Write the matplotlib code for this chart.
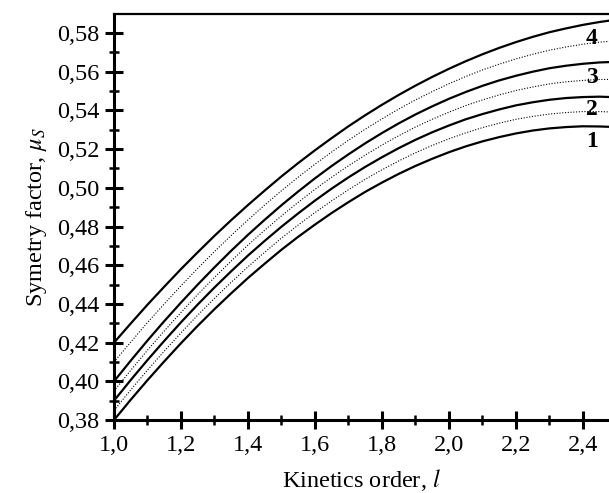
import matplotlib
matplotlib.use('Agg')
import matplotlib.pyplot as plt
from matplotlib.ticker import MultipleLocator, FuncFormatter

plt.rcParams['font.family'] = 'Liberation Serif'
plt.rcParams['mathtext.fontset'] = 'stix'

# kinetics order l (step 0.05)
order = [1.00, 1.05, 1.10, 1.15, 1.20, 1.25, 1.30, 1.35, 1.40, 1.45, 1.50,
         1.55, 1.60, 1.65, 1.70, 1.75, 1.80, 1.85, 1.90, 1.95, 2.00,
         2.05, 2.10, 2.15, 2.20, 2.25, 2.30, 2.35, 2.40, 2.45, 2.50]

# solid curves 1-4
mu_1 = [0.3800, 0.3905, 0.4006, 0.4103, 0.4197, 0.4287, 0.4373, 0.4455, 0.4534, 0.4608, 0.4680,
        0.4747, 0.4810, 0.4870, 0.4926, 0.4979, 0.5027, 0.5072, 0.5113, 0.5150, 0.5184,
        0.5214, 0.5240, 0.5262, 0.5281, 0.5296, 0.5307, 0.5314, 0.5318, 0.5317, 0.5314]
mu_2 = [0.3900, 0.4007, 0.4110, 0.4209, 0.4305, 0.4397, 0.4485, 0.4569, 0.4650, 0.4726, 0.4799,
        0.4868, 0.4934, 0.4996, 0.5054, 0.5108, 0.5158, 0.5205, 0.5248, 0.5287, 0.5322,
        0.5354, 0.5381, 0.5405, 0.5426, 0.5442, 0.5455, 0.5464, 0.5469, 0.5471, 0.5468]
mu_3 = [0.4000, 0.4107, 0.4211, 0.4311, 0.4407, 0.4500, 0.4589, 0.4675, 0.4757, 0.4835, 0.4910,
        0.4981, 0.5049, 0.5113, 0.5173, 0.5230, 0.5283, 0.5333, 0.5379, 0.5421, 0.5460,
        0.5495, 0.5527, 0.5555, 0.5579, 0.5600, 0.5618, 0.5631, 0.5641, 0.5648, 0.5651]
mu_4 = [0.4200, 0.4299, 0.4396, 0.4489, 0.4580, 0.4667, 0.4752, 0.4833, 0.4911, 0.4986, 0.5059,
        0.5128, 0.5194, 0.5257, 0.5318, 0.5375, 0.5429, 0.5480, 0.5528, 0.5573, 0.5615,
        0.5654, 0.5690, 0.5723, 0.5753, 0.5780, 0.5804, 0.5824, 0.5842, 0.5857, 0.5869]

# dotted curves in between
mu_12 = [0.3850, 0.3956, 0.4058, 0.4156, 0.4251, 0.4342, 0.4429, 0.4512, 0.4592, 0.4667, 0.4740,
         0.4808, 0.4872, 0.4933, 0.4990, 0.5044, 0.5093, 0.5139, 0.5181, 0.5219, 0.5253,
         0.5284, 0.5311, 0.5334, 0.5354, 0.5369, 0.5381, 0.5389, 0.5394, 0.5394, 0.5391]
mu_23 = [0.3950, 0.4057, 0.4161, 0.4260, 0.4356, 0.4449, 0.4537, 0.4622, 0.4704, 0.4781, 0.4855,
         0.4925, 0.4992, 0.5055, 0.5114, 0.5169, 0.5221, 0.5269, 0.5314, 0.5354, 0.5391,
         0.5425, 0.5454, 0.5480, 0.5503, 0.5521, 0.5537, 0.5548, 0.5555, 0.5560, 0.5560]
mu_34 = [0.4100, 0.4203, 0.4304, 0.4400, 0.4494, 0.4584, 0.4671, 0.4754, 0.4834, 0.4911, 0.4985,
         0.5055, 0.5122, 0.5185, 0.5246, 0.5303, 0.5356, 0.5407, 0.5454, 0.5497, 0.5538,
         0.5575, 0.5609, 0.5639, 0.5666, 0.5690, 0.5711, 0.5728, 0.5742, 0.5753, 0.5760]

curve_labels = ['1', '2', '3', '4']
label_x = 2.426
label_y = [0.5238, 0.5403, 0.5569, 0.5771]

fig = plt.figure(figsize=(6.09, 4.93), dpi=100)
ax = fig.add_axes([0.1872, 0.148, 0.8128, 0.8235])

for mu in [mu_1, mu_2, mu_3, mu_4]:
    ax.plot(order, mu, color='black', lw=1.6, solid_capstyle='butt')
for mu in [mu_12, mu_23, mu_34]:
    ax.plot(order, mu, color='black', lw=0.8, ls=(0, (1, 1.5)))

for lab, y in zip(curve_labels, label_y):
    ax.text(label_x, y, lab, fontsize=17, fontweight='bold', ha='center', va='center')

ax.set_xlim(1.0, 2.478)
ax.set_ylim(0.38, 0.5898)

ax.xaxis.set_major_locator(MultipleLocator(0.2))
ax.xaxis.set_minor_locator(MultipleLocator(0.1))
ax.yaxis.set_major_locator(MultipleLocator(0.02))
ax.yaxis.set_minor_locator(MultipleLocator(0.01))
ax.xaxis.set_major_formatter(FuncFormatter(lambda v, p: f'{v:.1f}'.replace('.', ',')))
ax.yaxis.set_major_formatter(FuncFormatter(lambda v, p: f'{v:.2f}'.replace('.', ',')))

ax.spines['right'].set_visible(False)
ax.spines['left'].set_linewidth(2.2)
ax.spines['bottom'].set_linewidth(2.2)
ax.spines['top'].set_linewidth(1.6)

ax.tick_params(which='major', direction='inout', length=13, width=2.2, labelsize=17.5, pad=4)
ax.tick_params(which='minor', direction='inout', length=6.5, width=1.8)
ax.tick_params(top=False, right=False)

ax.set_xlabel('Kinetics order, $l$', fontsize=17.5, labelpad=8)
ax.set_ylabel('Symetry factor, $\\mu_S$', fontsize=17.5, labelpad=6)

fig.savefig('out.png', dpi=100)
